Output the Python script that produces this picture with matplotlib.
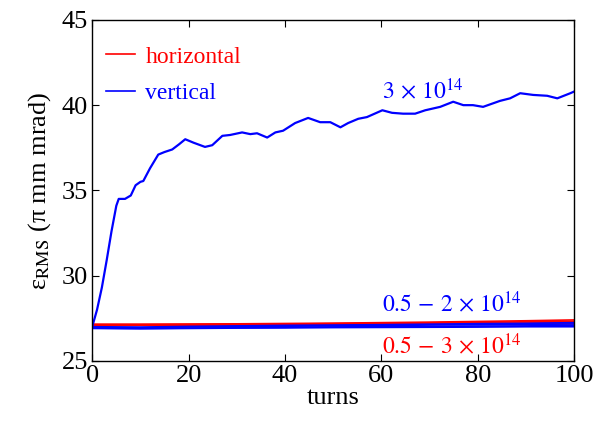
import numpy as np
import matplotlib.pyplot as plt

plt.rcParams['font.family'] = ['Liberation Serif', 'DejaVu Serif']
plt.rcParams['mathtext.fontset'] = 'stix'

# main vertical emittance curve at 3e14
turns_main = [0, 1, 2, 3, 4, 5, 5.5, 6.8, 8, 9, 10, 10.6, 12, 13.7, 15, 16.6, 18, 19.3, 21,
              23.4, 24.9, 27, 28.6, 31.1, 32.8, 34.2, 36.3, 38, 39.6, 42.1, 44.8, 47.3,
              49.4, 51.5, 53.1, 55.2, 57, 60.2, 62.2, 64.5, 67, 69.1, 72.2, 74.9, 77,
              79, 81.1, 84.6, 86.7, 88.8, 91.5, 94.4, 96.5, 99.2, 100]
emit_main = [27.0, 28.0, 29.3, 30.9, 32.6, 34.1, 34.5, 34.5, 34.7, 35.3, 35.5, 35.55, 36.3,
             37.1, 37.25, 37.4, 37.7, 38.0, 37.8, 37.55, 37.65, 38.2, 38.25, 38.4, 38.3,
             38.35, 38.1, 38.4, 38.5, 38.95, 39.25, 39.0, 39.0, 38.7, 38.95, 39.2, 39.3,
             39.7, 39.55, 39.5, 39.5, 39.7, 39.9, 40.2, 40.0, 40.0, 39.9, 40.25, 40.4,
             40.7, 40.6, 40.55, 40.4, 40.7, 40.8]

# flat runs
turns_flat = [0, 10, 20, 30, 40, 50, 60, 70, 80, 90, 100]
horiz = [
    [27.15, 27.15, 27.16, 27.17, 27.19, 27.21, 27.24, 27.27, 27.31, 27.35, 27.4],
    [27.12, 27.12, 27.13, 27.14, 27.16, 27.18, 27.2, 27.23, 27.26, 27.29, 27.32],
    [27.1, 27.1, 27.11, 27.12, 27.13, 27.14, 27.16, 27.18, 27.2, 27.22, 27.24],
    [27.08, 27.09, 27.09, 27.1, 27.11, 27.12, 27.13, 27.14, 27.15, 27.16, 27.17],
]
vert = [
    [27.0, 26.98, 27.02, 27.05, 27.08, 27.1, 27.12, 27.15, 27.18, 27.2, 27.24],
    [26.95, 26.95, 26.98, 27.0, 27.03, 27.05, 27.07, 27.1, 27.12, 27.14, 27.16],
    [26.92, 26.9, 26.92, 26.95, 26.97, 26.99, 27.0, 27.02, 27.04, 27.05, 27.07],
    [26.9, 26.88, 26.9, 26.92, 26.93, 26.95, 26.96, 26.97, 26.98, 27.0, 27.0],
]

fig = plt.figure(figsize=(5.95, 4.24), dpi=100)
ax = fig.add_axes([0.155, 0.149, 0.81, 0.804])

for i, h in enumerate(horiz):
    ax.plot(turns_flat, h, color='red', lw=1.2, label='horizontal' if i == 0 else None)
for i, v in enumerate(vert):
    ax.plot(turns_flat, v, color='blue', lw=1.2, label='vertical' if i == 0 else None)
ax.plot(turns_main, emit_main, color='blue', lw=1.6)

ax.set_xlim(0, 100)
ax.set_ylim(25, 45)
ax.set_xticks(np.arange(0, 101, 20))
ax.set_yticks(np.arange(25, 46, 5))
ax.tick_params(direction='in', top=True, right=True, labelsize=19, length=5, pad=3)
for s in ax.spines.values():
    s.set_linewidth(1.0)

ax.set_xlabel('turns', fontsize=19, labelpad=0)
ax.set_ylabel(r'ε$_{\rm RMS}$ (π mm mrad)', fontsize=19, labelpad=6)

ax.text(60.2, 40.4, r'$3\,\times\,10^{14}$', color='blue', fontsize=17)
ax.text(60.2, 27.87, r'$0.5\,-\,2\,\times\,10^{14}$', color='blue', fontsize=17)
ax.text(60.2, 25.4, r'$0.5\,-\,3\,\times\,10^{14}$', color='red', fontsize=17)

leg = ax.legend(loc='upper left', bbox_to_anchor=(0.0, 0.965), frameon=False,
                fontsize=17, handlelength=1.2, handletextpad=0.45, labelspacing=0.65,
                borderaxespad=0.2, borderpad=0.4)
for t, c in zip(leg.get_texts(), ['red', 'blue']):
    t.set_color(c)

fig.savefig('out.png', dpi=100)
